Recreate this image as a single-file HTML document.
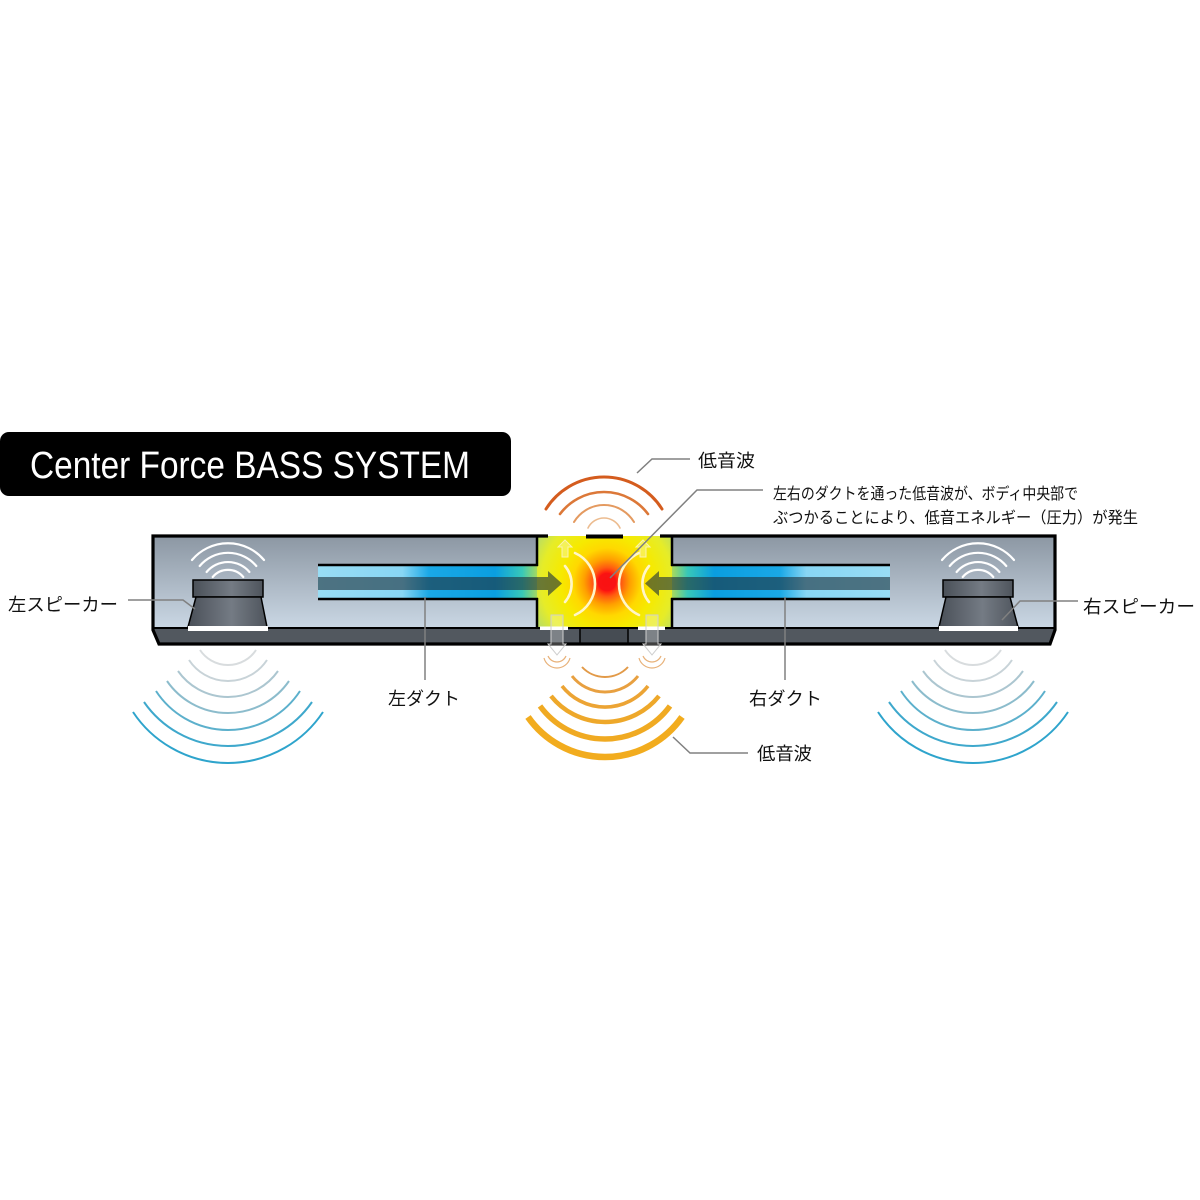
<!DOCTYPE html>
<html><head><meta charset="utf-8">
<style>
html,body{margin:0;padding:0;background:#fff;}
svg{display:block}
text{font-family:"Liberation Sans","Noto Sans CJK JP",sans-serif;}
</style></head>
<body>
<svg width="1200" height="1200" viewBox="0 0 1200 1200" xmlns="http://www.w3.org/2000/svg">
<defs>
  <linearGradient id="body" x1="0" y1="0" x2="0" y2="1">
    <stop offset="0" stop-color="#8c97a3"/>
    <stop offset="1" stop-color="#cad7e4"/>
  </linearGradient>
  <linearGradient id="ductL" x1="318" y1="0" x2="540" y2="0" gradientUnits="userSpaceOnUse">
    <stop offset="0" stop-color="#98dcf4"/>
    <stop offset="0.38" stop-color="#88d6f4"/>
    <stop offset="0.5" stop-color="#1aa8e6"/>
    <stop offset="0.8" stop-color="#0a9ee0"/>
    <stop offset="0.92" stop-color="#38c8b8"/>
    <stop offset="1" stop-color="#b8dc50"/>
  </linearGradient>
  <linearGradient id="ductR" x1="670" y1="0" x2="890" y2="0" gradientUnits="userSpaceOnUse">
    <stop offset="0" stop-color="#b8dc50"/>
    <stop offset="0.08" stop-color="#38c8b8"/>
    <stop offset="0.2" stop-color="#0a9ee0"/>
    <stop offset="0.5" stop-color="#1aa8e6"/>
    <stop offset="0.62" stop-color="#88d6f4"/>
    <stop offset="1" stop-color="#98dcf4"/>
  </linearGradient>
  <radialGradient id="core" cx="607" cy="582" r="85" gradientUnits="userSpaceOnUse">
    <stop offset="0" stop-color="#ff0000"/>
    <stop offset="0.1" stop-color="#ff1010"/>
    <stop offset="0.17" stop-color="#ff5a10"/>
    <stop offset="0.27" stop-color="#ffa000"/>
    <stop offset="0.4" stop-color="#ffd800"/>
    <stop offset="0.55" stop-color="#f6ea00"/>
    <stop offset="0.78" stop-color="#e6ec28"/>
    <stop offset="1" stop-color="#b0da70"/>
  </radialGradient>
  <linearGradient id="spk" x1="0" y1="0" x2="1" y2="0">
    <stop offset="0" stop-color="#4a5058"/>
    <stop offset="0.55" stop-color="#747b84"/>
    <stop offset="1" stop-color="#4e545c"/>
  </linearGradient>
</defs>

<!-- Title -->
<rect x="0" y="432" width="511" height="64" rx="9" fill="#000"/>
<text x="30" y="478" font-size="38" fill="#fff" textLength="440" lengthAdjust="spacingAndGlyphs">Center Force BASS SYSTEM</text>

<!-- Body interior -->
<rect x="153" y="536" width="902" height="92" fill="url(#body)"/>
<polygon points="153,628 1055,628 1050,644 159,644" fill="#52585f"/>
<rect x="580" y="628" width="48" height="15" fill="#464c53"/>

<!-- Ducts -->
<rect x="318" y="565" width="222" height="34" fill="url(#ductL)"/>
<rect x="670" y="565" width="220" height="34" fill="url(#ductR)"/>

<!-- Chamber -->
<rect x="537" y="536" width="135" height="92" fill="url(#core)"/>
<circle cx="607" cy="582" r="9" fill="#f81414" opacity="0.9"/>

<!-- Arrows in ducts -->
<path d="M318 577 L548 577 L548 571 L562 583.5 L548 596 L548 590 L318 590 Z" fill="rgba(30,50,60,0.62)"/>
<path d="M890 577 L659 577 L659 571 L645 583.5 L659 596 L659 590 L890 590 Z" fill="rgba(30,50,60,0.62)"/>

<!-- Duct borders -->
<g stroke="#000" stroke-width="2.5" fill="none">
  <line x1="318" y1="565" x2="538" y2="565"/>
  <line x1="318" y1="599" x2="538" y2="599"/>
  <line x1="671" y1="565" x2="890" y2="565"/>
  <line x1="671" y1="599" x2="890" y2="599"/>
  <line x1="537" y1="536" x2="537" y2="566"/>
  <line x1="537" y1="598" x2="537" y2="628"/>
  <line x1="672" y1="536" x2="672" y2="566"/>
  <line x1="672" y1="598" x2="672" y2="628"/>
</g>

<!-- white arcs in chamber -->
<g stroke="#fff6c8" stroke-width="2.6" fill="none" stroke-linecap="round">
  <path d="M575 553 A34 34 0 0 1 575 615"/>
  <path d="M565 566 A27.9 27.9 0 0 1 565 602"/>
  <path d="M639 553 A34 34 0 0 0 639 615"/>
  <path d="M649 566 A27.9 27.9 0 0 0 649 602"/>
</g>
<g stroke="#fbf2b0" stroke-width="1" fill="rgba(255,255,220,0.35)">
  <polygon points="565,540 572,547 568,547 568,557 562,557 562,547 558,547"/>
  <polygon points="643,540 650,547 646,547 646,557 640,557 640,547 636,547"/>
</g>

<!-- Body outline -->
<g stroke="#000" fill="none">
  <path d="M548 536 L153 536 L153 630 L159 644 L1050 644 L1055 630 L1055 536 L660 536" stroke-width="3.2"/>
  <line x1="586" y1="536.5" x2="623" y2="536.5" stroke-width="4"/>
  <line x1="153" y1="628" x2="1055" y2="628" stroke-width="2"/>
  <line x1="580" y1="628" x2="580" y2="644" stroke-width="1.5"/>
  <line x1="628" y1="628" x2="628" y2="644" stroke-width="1.5"/>
</g>
<rect x="540" y="626.5" width="28" height="3.5" fill="#fff"/>
<rect x="638" y="626.5" width="27" height="3.5" fill="#fff"/>

<!-- down arrows -->
<g stroke="#cfcfcf" stroke-width="1" fill="rgba(255,255,255,0.25)">
  <polygon points="551,615 563,615 563,644 566,644 557,655 548,644 551,644"/>
  <polygon points="646,615 658,615 658,644 661,644 652,655 643,644 646,644"/>
</g>
<g stroke="#e8b27a" stroke-width="1.2" fill="none">
  <path d="M548 656 A9.75 9.75 0 0 0 566 656"/>
  <path d="M544 658 A13.45 13.45 0 0 0 570 658"/>
  <path d="M643 656 A9.75 9.75 0 0 0 661 656"/>
  <path d="M639 658 A13.45 13.45 0 0 0 665 658"/>
</g>

<!-- Speakers -->
<g stroke="#000" stroke-width="1.5">
  <rect x="193" y="580" width="70" height="17" fill="url(#spk)"/>
  <polygon points="196,597 261,597 267,627 188,627" fill="url(#spk)"/>
  <rect x="943" y="580" width="70" height="17" fill="url(#spk)"/>
  <polygon points="946,597 1010,597 1018,627 939,627" fill="url(#spk)"/>
</g>
<rect x="188" y="626" width="80" height="5" fill="#fff"/>
<rect x="939" y="626" width="79" height="5" fill="#fff"/>

<g stroke="#fff" stroke-width="2.2" fill="none" stroke-linecap="round">
  <path d="M192 560 A47 47 0 0 1 264 560"/>
  <path d="M199.7 566 A37 37 0 0 1 256.3 566"/>
  <path d="M206.6 572 A28 28 0 0 1 249.4 572"/>
  <path d="M212.7 577 A20 20 0 0 1 243.3 577"/>
  <path d="M942 560 A47 47 0 0 1 1014 560"/>
  <path d="M949.7 566 A37 37 0 0 1 1006.3 566"/>
  <path d="M956.6 572 A28 28 0 0 1 999.4 572"/>
  <path d="M962.7 577 A20 20 0 0 1 993.3 577"/>
</g>

<!-- top orange waves -->
<g fill="none" stroke-linecap="round">
  <path d="M546 509 A68.6 68.6 0 0 1 662 509" stroke="#d45c1e" stroke-width="3"/>
  <path d="M560 514 A55 55 0 0 1 648 514" stroke="#dc7838" stroke-width="2.6"/>
  <path d="M574 522 A35 35 0 0 1 634 522" stroke="#e49a60" stroke-width="2"/>
  <path d="M588 528 A17.8 17.8 0 0 1 620 528" stroke="#ecbc90" stroke-width="1.6"/>
</g>

<!-- bottom orange waves -->
<g fill="none">
  <path d="M582 667 A31.5 31.5 0 0 0 628 667" stroke="#e29a48" stroke-width="2"/>
  <path d="M572 676 A42 42 0 0 0 638 676" stroke="#e8a040" stroke-width="3"/>
  <path d="M562 686 A54.5 54.5 0 0 0 648 686" stroke="#eca434" stroke-width="3.6"/>
  <path d="M551 696 A69.1 69.1 0 0 0 659 696" stroke="#eea82a" stroke-width="4.5"/>
  <path d="M540 706 A80.5 80.5 0 0 0 670 706" stroke="#f0aa22" stroke-width="5.5"/>
  <path d="M528 717 A94.1 94.1 0 0 0 682 717" stroke="#f2ac1e" stroke-width="6.5"/>
</g>

<!-- blue waves left -->
<g fill="none" stroke-width="2">
  <path d="M200 650 A33.6 33.6 0 0 0 256 650" stroke="#d8dcde"/>
  <path d="M189 660 A46.7 46.7 0 0 0 267 660" stroke="#c8d3d8"/>
  <path d="M178 671 A61.1 61.1 0 0 0 278 671" stroke="#acc6d0"/>
  <path d="M167 681 A74.1 74.1 0 0 0 289 681" stroke="#8cbccc"/>
  <path d="M156 691 A86 86 0 0 0 300 691" stroke="#5cb0cc"/>
  <path d="M144 702 A102.2 102.2 0 0 0 312 702" stroke="#3ea8cc"/>
  <path d="M133 712 A114 114 0 0 0 323 712" stroke="#2ea4cc"/>
</g>
<!-- blue waves right -->
<g fill="none" stroke-width="2">
  <path d="M945 650 A33.6 33.6 0 0 0 1001 650" stroke="#d8dcde"/>
  <path d="M934 660 A46.7 46.7 0 0 0 1012 660" stroke="#c8d3d8"/>
  <path d="M923 671 A61.1 61.1 0 0 0 1023 671" stroke="#acc6d0"/>
  <path d="M912 681 A74.1 74.1 0 0 0 1034 681" stroke="#8cbccc"/>
  <path d="M901 691 A86 86 0 0 0 1045 691" stroke="#5cb0cc"/>
  <path d="M889 702 A102.2 102.2 0 0 0 1057 702" stroke="#3ea8cc"/>
  <path d="M878 712 A114 114 0 0 0 1068 712" stroke="#2ea4cc"/>
</g>

<!-- leader lines -->
<g stroke="#808080" stroke-width="1.5" fill="none">
  <polyline points="128,600 183,600 195,609"/>
  <polyline points="1078,601 1020,601 1002,620"/>
  <line x1="425" y1="597" x2="425" y2="680"/>
  <line x1="785" y1="597" x2="785" y2="680"/>
  <polyline points="637,473 652,459 690,459"/>
  <polyline points="610,578 697,490 763,490"/>
  <polyline points="673,737 690,753 748,753"/>
</g>

<!-- labels -->
<g fill="#111">
  <text x="698" y="467" font-size="18" textLength="57" lengthAdjust="spacingAndGlyphs">低音波</text>
  <text x="773" y="499" font-size="16" textLength="305" lengthAdjust="spacingAndGlyphs">左右のダクトを通った低音波が、ボディ中央部で</text>
  <text x="773" y="523" font-size="16" textLength="365" lengthAdjust="spacingAndGlyphs">ぶつかることにより、低音エネルギー（圧力）が発生</text>
  <text x="8" y="611" font-size="18" textLength="110" lengthAdjust="spacingAndGlyphs">左スピーカー</text>
  <text x="1083" y="613" font-size="18" textLength="112" lengthAdjust="spacingAndGlyphs">右スピーカー</text>
  <text x="388" y="705" font-size="18" textLength="72" lengthAdjust="spacingAndGlyphs">左ダクト</text>
  <text x="749" y="705" font-size="18" textLength="73" lengthAdjust="spacingAndGlyphs">右ダクト</text>
  <text x="757" y="760" font-size="18" textLength="55" lengthAdjust="spacingAndGlyphs">低音波</text>
</g>
</svg>
</body></html>
